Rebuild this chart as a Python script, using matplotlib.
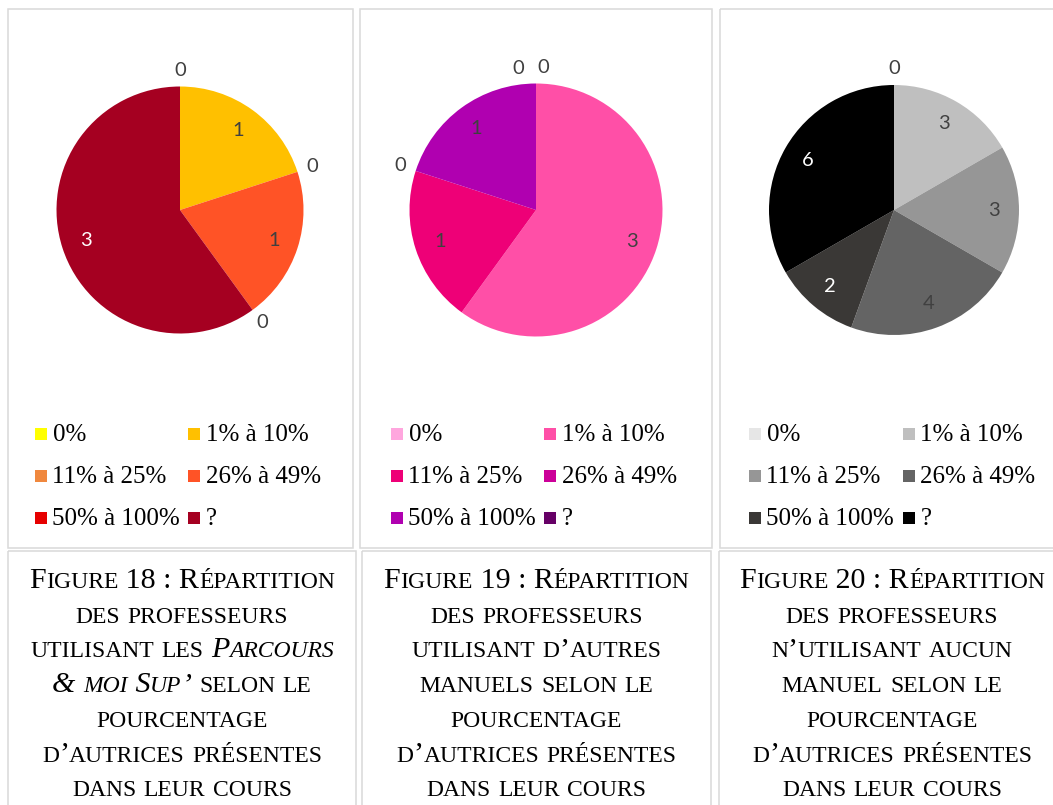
import matplotlib
matplotlib.use("Agg")
import matplotlib.pyplot as plt
from matplotlib.patches import Rectangle
import numpy as np

# ---------------- data ----------------
categories = ["0%", "1% à 10%", "11% à 25%", "26% à 49%", "50% à 100%", "?"]

values_fig18 = [0, 1, 0, 1, 0, 3]
values_fig19 = [0, 3, 1, 0, 1, 0]
values_fig20 = [0, 3, 3, 4, 2, 6]

colors_fig18 = ["#FFFF00", "#FFC000", "#F0883E", "#FF5326", "#E60000", "#A50021"]
colors_fig19 = ["#FFA6DE", "#FF4FA7", "#EE0077", "#CC0099", "#B000B0", "#660066"]
colors_fig20 = ["#E6E6E6", "#BFBFBF", "#969696", "#646464", "#3A3836", "#000000"]

# '*' toggles italic; lowercase letters are rendered as small capitals
caption_fig18 = ["Figure 18 : Répartition", "des professeurs",
                 "utilisant les *Parcours*", "*& moi Sup’* selon le",
                 "pourcentage", "d’autrices présentes", "dans leur cours"]
caption_fig19 = ["Figure 19 : Répartition", "des professeurs",
                 "utilisant d’autres", "manuels selon le",
                 "pourcentage", "d’autrices présentes", "dans leur cours"]
caption_fig20 = ["Figure 20 : Répartition", "des professeurs",
                 "n’utilisant aucun", "manuel selon le",
                 "pourcentage", "d’autrices présentes", "dans leur cours"]

# ---------------- layout / style ----------------
W, H = 1053, 805
DPI = 100
SERIF = "Liberation Serif"
LABEL_FONT = ["Lato", "DejaVu Sans"]
BORDER = "#D9D9D9"

panels = [
    dict(values=values_fig18, colors=colors_fig18, caption=caption_fig18,
         center=(180, 210), radius=123.5, leg_x=(35, 188), cap_cx=182,
         chart_box=(7.5, 9.5, 352.5, 548), cap_box=(8, 551, 356, 810),
         nudge={}),
    dict(values=values_fig19, colors=colors_fig19, caption=caption_fig19,
         center=(536, 210), radius=126.5, leg_x=(391, 544), cap_cx=536.5,
         chart_box=(359.5, 9.5, 712, 548), cap_box=(362, 551, 711, 810),
         nudge={0: -3.0, 5: 7.0}),
    dict(values=values_fig20, colors=colors_fig20, caption=caption_fig20,
         center=(894, 210), radius=125, leg_x=(749, 903), cap_cx=892,
         chart_box=(720, 9.5, 1060, 548), cap_box=(719, 551, 1060, 810),
         nudge={}),
]

fig = plt.figure(figsize=(W / DPI, H / DPI), dpi=DPI)
fig.patch.set_facecolor("white")

# overlay axes in pixel coordinates
ov = fig.add_axes([0, 0, 1, 1])
ov.set_xlim(0, W)
ov.set_ylim(H, 0)
ov.axis("off")

renderer = fig.canvas.get_renderer()


def text_width(s, size, italic):
    kw = dict(fontsize=size, family=SERIF, style="italic" if italic else "normal")
    t1 = ov.text(0, 0, s + "|", **kw)
    t2 = ov.text(0, 0, "|", **kw)
    w = t1.get_window_extent(renderer).width - t2.get_window_extent(renderer).width
    t1.remove()
    t2.remove()
    return w


def runs_from_line(line):
    runs = []
    for i, part in enumerate(line.split("*")):
        italic = (i % 2 == 1)
        cur, cur_small = "", None
        for ch in part:
            small = ch.islower()
            if cur and small != cur_small:
                runs.append((cur, cur_small, italic))
                cur = ""
            cur += ch.upper() if small else ch
            cur_small = small
        if cur:
            runs.append((cur, cur_small, italic))
    return runs


BIG, SMALL = 21.6, 17.0


def draw_caption(lines, cx, y0, step):
    for k, line in enumerate(lines):
        runs = runs_from_line(line)
        widths = [text_width(s, SMALL if sm else BIG, it) for s, sm, it in runs]
        x = cx - sum(widths) / 2
        y = y0 + k * step
        for (s, sm, it), w in zip(runs, widths):
            ov.text(x, y, s, fontsize=SMALL if sm else BIG, family=SERIF,
                    style="italic" if it else "normal", ha="left", va="baseline",
                    color="#000000")
            x += w


def luminance(c):
    r, g, b = matplotlib.colors.to_rgb(c)
    return 0.299 * r + 0.587 * g + 0.114 * b


S = 340  # pie axes side in px
for p in panels:
    # borders
    x0, y0, x1, y1 = p["chart_box"]
    ov.add_patch(Rectangle((x0, y0), x1 - x0, y1 - y0, fill=False,
                           edgecolor=BORDER, linewidth=1.1))
    x0, y0, x1, y1 = p["cap_box"]
    ov.add_patch(Rectangle((x0, y0), x1 - x0, y1 - y0, fill=False,
                           edgecolor=BORDER, linewidth=1.1))

    # pie
    cx, cy = p["center"]
    r = p["radius"]
    ax = fig.add_axes([(cx - S / 2) / W, 1 - (cy + S / 2) / H, S / W, S / H])
    wedges, _ = ax.pie(p["values"], colors=p["colors"], radius=r,
                       startangle=90, counterclock=False,
                       wedgeprops=dict(linewidth=0))
    ax.set_xlim(-S / 2, S / 2)
    ax.set_ylim(-S / 2, S / 2)
    ax.set_aspect("equal")
    ax.axis("off")

    for i, (wdg, v) in enumerate(zip(wedges, p["values"])):
        mid = (wdg.theta1 + wdg.theta2) / 2.0
        if v == 0:
            mid += p["nudge"].get(i, 0.0)
            f = 1.13
            col = "#404040"
        else:
            f = 0.8
            col = "white" if luminance(p["colors"][i]) < 0.25 else "#404040"
        ang = np.deg2rad(mid)
        ax.text(r * f * np.cos(ang), r * f * np.sin(ang), str(v),
                ha="center", va="center", fontsize=14.5, family=LABEL_FONT,
                color=col)

    # legend (row-major, 2 columns)
    baselines = [441, 483, 525]
    for i, cat in enumerate(categories):
        row, colm = divmod(i, 2)
        sx = p["leg_x"][colm]
        bl = baselines[row]
        ov.add_patch(Rectangle((sx, bl - 13), 12, 12, facecolor=p["colors"][i],
                               edgecolor="none"))
        ov.text(sx + 17.5, bl, cat, fontsize=18, family=SERIF, ha="left",
                va="baseline", color="#000000")

    draw_caption(p["caption"], p["cap_cx"], 588, 34.7)

fig.savefig("out.png", dpi=DPI, facecolor="white")
